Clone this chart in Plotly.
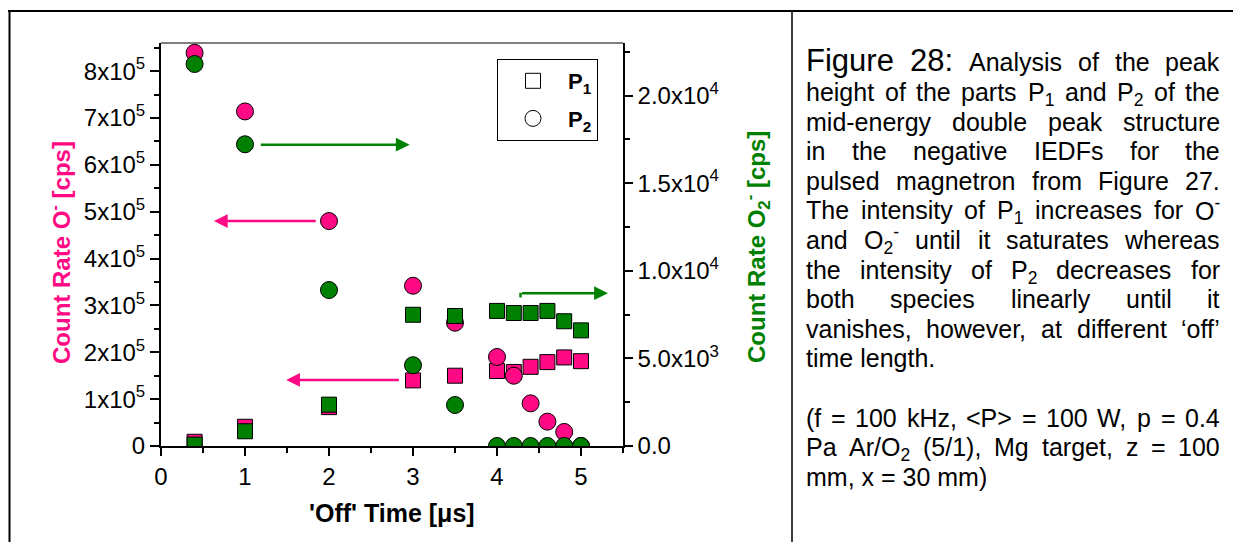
import re
import plotly.graph_objects as go

# ---------------- data ----------------
time_us = [0.4, 1, 2, 3, 3.5, 4, 4.2, 4.4, 4.6, 4.8, 5]
o_minus_p1 = [0.09e5, 0.41e5, 0.83e5, 1.40e5, 1.50e5, 1.60e5, 1.58e5, 1.69e5, 1.79e5, 1.89e5, 1.81e5]
o_minus_p2 = [8.39e5, 7.14e5, 4.80e5, 3.42e5, 2.63e5, 1.90e5, 1.50e5, 0.91e5, 0.52e5, 0.30e5, 0]
o2_minus_p1 = [80, 840, 2360, 7490, 7420, 7710, 7590, 7590, 7710, 7120, 6600]
o2_minus_p2 = [21800, 17220, 8900, 4610, 2340, 0, 0, 0, 0, 0, 0]

x_tickvals = [0, 1, 2, 3, 4, 5]
x_ticktext = ["0", "1", "2", "3", "4", "5"]
left_tickvals = [0, 1e5, 2e5, 3e5, 4e5, 5e5, 6e5, 7e5, 8e5]
left_ticktext = ["0"] + [f"{i}x10<sup>5</sup>" for i in range(1, 9)]
right_tickvals = [0, 5000, 10000, 15000, 20000]
right_ticktext = ["0.0", "5.0x10<sup>3</sup>", "1.0x10<sup>4</sup>",
                  "1.5x10<sup>4</sup>", "2.0x10<sup>4</sup>"]

caption_lines = [
    "height of the parts P<sub>1</sub> and P<sub>2</sub> of the",
    "mid-energy double peak structure",
    "in the negative IEDFs for the",
    "pulsed magnetron from Figure 27.",
    "The intensity of P<sub>1</sub> increases for O<sup>-</sup>",
    "and O<sub>2</sub><sup>-</sup> until it saturates whereas",
    "the intensity of P<sub>2</sub> decreases for",
    "both species linearly until it",
    "vanishes, however, at different \u2018off\u2019",
    "time length.",
    "",
    "(f = 100 kHz, &lt;P&gt; = 100 W, p = 0.4",
    "Pa Ar/O<sub>2</sub> (5/1), Mg target, z = 100",
    "mm, x = 30 mm)",
]
BODY_FS, FIG_FS = 25, 31
caption_first = [("Figure", FIG_FS), ("28:", FIG_FS), ("Analysis", BODY_FS), ("of", BODY_FS),
                 ("the", BODY_FS), ("peak", BODY_FS)]
not_justified = {"time length.", "mm, x = 30 mm)", ""}

# ---------------- style ----------------
PINK = "#FF0A84"
GREEN = "#008000"
FONT = "Liberation Sans, Arial, sans-serif"
W, H = 1233, 542
PL, PR, PT, PB = 161, 623, 43, 446  # plot area in pixels


def px2x(px):
    return (px - PL) / (PR - PL)


def py2y(py):
    return (PB - py) / (PB - PT)


CW = {}
for c in "ijl":
    CW[c] = 222
for c in "ckQsvxyz":
    CW[c] = 500
CW.update({"f": 278, "r": 333, "t": 278, "w": 722, "m": 833})
for c in "abdeghnopqu":
    CW[c] = 556
CW.update({"A": 667, "B": 667, "C": 722, "D": 722, "E": 667, "F": 611, "G": 778, "H": 722,
           "I": 278, "J": 500, "K": 667, "L": 556, "M": 833, "N": 722, "O": 778, "P": 667,
           "R": 722, "S": 667, "T": 611, "U": 722, "V": 667, "W": 944, "X": 667, "Y": 667,
           "Z": 611, " ": 278, ".": 278, ",": 278, ":": 278, "(": 333, ")": 333, "-": 333,
           "/": 278, "=": 584, "<": 584, ">": 584, "\u2018": 222, "\u2019": 222})
for c in "0123456789":
    CW[c] = 556


def text_width(word, fs):
    w = 0.0
    scale = 1.0
    for t in re.split(r"(</?su[bp]>)", word):
        if t in ("<sub>", "<sup>"):
            scale = 0.7
            continue
        if t in ("</sub>", "</sup>"):
            scale = 1.0
            continue
        t = t.replace("&lt;", "<").replace("&gt;", ">")
        for ch in t:
            w += CW.get(ch, 556) * scale
    return w * fs / 1000.0


fig = go.Figure()

marker_line = dict(color="black", width=1)
fig.add_trace(go.Scatter(x=time_us, y=o_minus_p1, mode="markers", showlegend=False,
                         marker=dict(symbol="square", size=15, color=PINK, line=marker_line)))
fig.add_trace(go.Scatter(x=time_us, y=o_minus_p2, mode="markers", showlegend=False,
                         marker=dict(symbol="circle", size=17, color=PINK, line=marker_line)))
fig.add_trace(go.Scatter(x=time_us, y=o2_minus_p1, mode="markers", showlegend=False, yaxis="y2",
                         marker=dict(symbol="square", size=15, color=GREEN, line=marker_line)))
fig.add_trace(go.Scatter(x=time_us, y=o2_minus_p2, mode="markers", showlegend=False, yaxis="y2",
                         marker=dict(symbol="circle", size=17, color=GREEN, line=marker_line)))
# legend entries
fig.add_trace(go.Scatter(x=[None], y=[None], mode="markers", name="<b>P<sub>1</sub></b>",
                         legendgroup="a",
                         marker=dict(symbol="square", size=15, color="white", line=marker_line)))
fig.add_trace(go.Scatter(x=[None], y=[None], mode="markers", name="<b>P<sub>2</sub></b>",
                         legendgroup="b",
                         marker=dict(symbol="circle", size=17, color="white", line=marker_line)))

annotations = []
# axis titles
annotations.append(dict(text="<b>Count Rate O<sup>-</sup> [cps]</b>", textangle=-90,
                        x=px2x(60), y=py2y(253), xref="paper", yref="paper", showarrow=False,
                        xanchor="center", yanchor="middle",
                        font=dict(size=24, color=PINK, family=FONT)))
annotations.append(dict(text="<b>Count Rate O<sub>2</sub><sup>-</sup> [cps]</b>", textangle=-90,
                        x=px2x(757), y=py2y(247), xref="paper", yref="paper", showarrow=False,
                        xanchor="center", yanchor="middle",
                        font=dict(size=24, color=GREEN, family=FONT)))
annotations.append(dict(text="<b>'Off' Time [\u03bcs]</b>",
                        x=px2x(392), y=py2y(513), xref="paper", yref="paper", showarrow=False,
                        xanchor="center", yanchor="middle",
                        font=dict(size=25, color="black", family=FONT)))

# arrows (data coordinates, left axis)
arrow_specs = [
    (2.96, 6.43e5, 1.17, 6.43e5, GREEN),
    (0.63, 4.80e5, 1.86, 4.80e5, PINK),
    (1.49, 1.41e5, 2.85, 1.41e5, PINK),
    (5.32, 3.26e5, 4.28, 3.26e5, GREEN),
]
for hx, hy, tx, ty, col in arrow_specs:
    annotations.append(dict(x=hx, y=hy, ax=tx, ay=ty, xref="x", yref="y", axref="x", ayref="y",
                            showarrow=True, arrowhead=2, arrowsize=1.1, arrowwidth=2.5,
                            arrowcolor=col, text=""))

# caption (justified by word placement)
L_TXT, R_TXT = 806, 1220
BASE0, LSTEP = 71, 29.6


def place_line(words, baseline, justify):
    widths = [text_width(w, fs) for w, fs in words]
    if justify and len(words) > 1:
        gap = (R_TXT - L_TXT - sum(widths)) / (len(words) - 1)
    else:
        gap = 0.278 * words[0][1]
    xpos = L_TXT
    for i, ((w, fs), wd) in enumerate(zip(words, widths)):
        top_off = 1.05 * fs if "<sup>" in w else 0.905 * fs
        last = justify and i == len(words) - 1 and len(words) > 1
        annotations.append(dict(text=w, x=px2x(R_TXT if last else xpos),
                                y=py2y(baseline - top_off), xref="paper", yref="paper",
                                xanchor="right" if last else "left", yanchor="top",
                                showarrow=False, borderpad=0, borderwidth=0,
                                font=dict(size=fs, color="black", family=FONT)))
        xpos += wd + gap


place_line(caption_first, BASE0, True)
for i, line in enumerate(caption_lines, start=1):
    if not line:
        continue
    base = BASE0 + LSTEP * i
    if line in not_justified:
        annotations.append(dict(text=line, x=px2x(L_TXT), y=py2y(base - 0.905 * BODY_FS),
                                xref="paper", yref="paper", xanchor="left", yanchor="top",
                                showarrow=False, borderpad=0, borderwidth=0,
                                font=dict(size=BODY_FS, color="black", family=FONT)))
    else:
        place_line([(w, BODY_FS) for w in line.split(" ")], base, True)

shapes = [
    # table frame
    dict(type="line", xref="paper", yref="paper", x0=px2x(8), x1=px2x(W + 5), y0=py2y(11), y1=py2y(11),
         line=dict(color="black", width=2)),
    dict(type="line", xref="paper", yref="paper", x0=px2x(9.5), x1=px2x(9.5), y0=py2y(10), y1=py2y(W),
         line=dict(color="black", width=2)),
    dict(type="line", xref="paper", yref="paper", x0=px2x(792), x1=px2x(792), y0=py2y(11), y1=py2y(W),
         line=dict(color="black", width=1.5)),
    # top frame of plot
    dict(type="line", xref="paper", yref="paper", x0=0, x1=1, y0=1, y1=1,
         line=dict(color="black", width=1.2)),
    # small hook at the tail of the second green arrow
    dict(type="line", xref="x", yref="y", x0=4.28, x1=4.28, y0=3.27e5, y1=3.17e5,
         line=dict(color=GREEN, width=2.5)),
]

axis_common = dict(showgrid=False, zeroline=False, showline=True, linecolor="black",
                   ticks="outside", tickcolor="black", automargin=False,
                   tickfont=dict(size=24, color="black", family=FONT))

fig.update_layout(
    template="none",
    width=W, height=H,
    margin=dict(l=PL, r=W - PR, t=PT, b=H - PB, autoexpand=False),
    paper_bgcolor="white", plot_bgcolor="white",
    font=dict(family=FONT, color="black"),
    xaxis=dict(range=[0, 5.5], tickmode="array", tickvals=x_tickvals, ticktext=x_ticktext,
               ticklen=8, tickwidth=2, linewidth=2,
               minor=dict(tick0=0, dtick=0.5, ticklen=5, tickwidth=1.5, ticks="outside",
                          tickcolor="black", showgrid=False), **axis_common),
    yaxis=dict(range=[0, 8.6e5], tickmode="array", tickvals=left_tickvals, ticktext=left_ticktext,
               ticklen=9, tickwidth=2, linewidth=2,
               minor=dict(tick0=0, dtick=0.5e5, ticklen=5, tickwidth=1.5, ticks="outside",
                          tickcolor="black", showgrid=False), **axis_common),
    yaxis2=dict(range=[0, 23000], overlaying="y", side="right", tickmode="array",
                tickvals=right_tickvals, ticktext=right_ticktext,
                ticklen=8, tickwidth=1.5, linewidth=1.5,
                minor=dict(tick0=0, dtick=2500, ticklen=5, tickwidth=1.5, ticks="outside",
                           tickcolor="black", showgrid=False), **axis_common),
    showlegend=True,
    legend=dict(x=px2x(497), y=py2y(59), xanchor="left", yanchor="top",
                bordercolor="black", borderwidth=1, bgcolor="white",
                font=dict(size=22, color="black", family=FONT),
                itemwidth=60, tracegroupgap=6),
    annotations=annotations,
    shapes=shapes,
)

fig.write_html("out.html")
